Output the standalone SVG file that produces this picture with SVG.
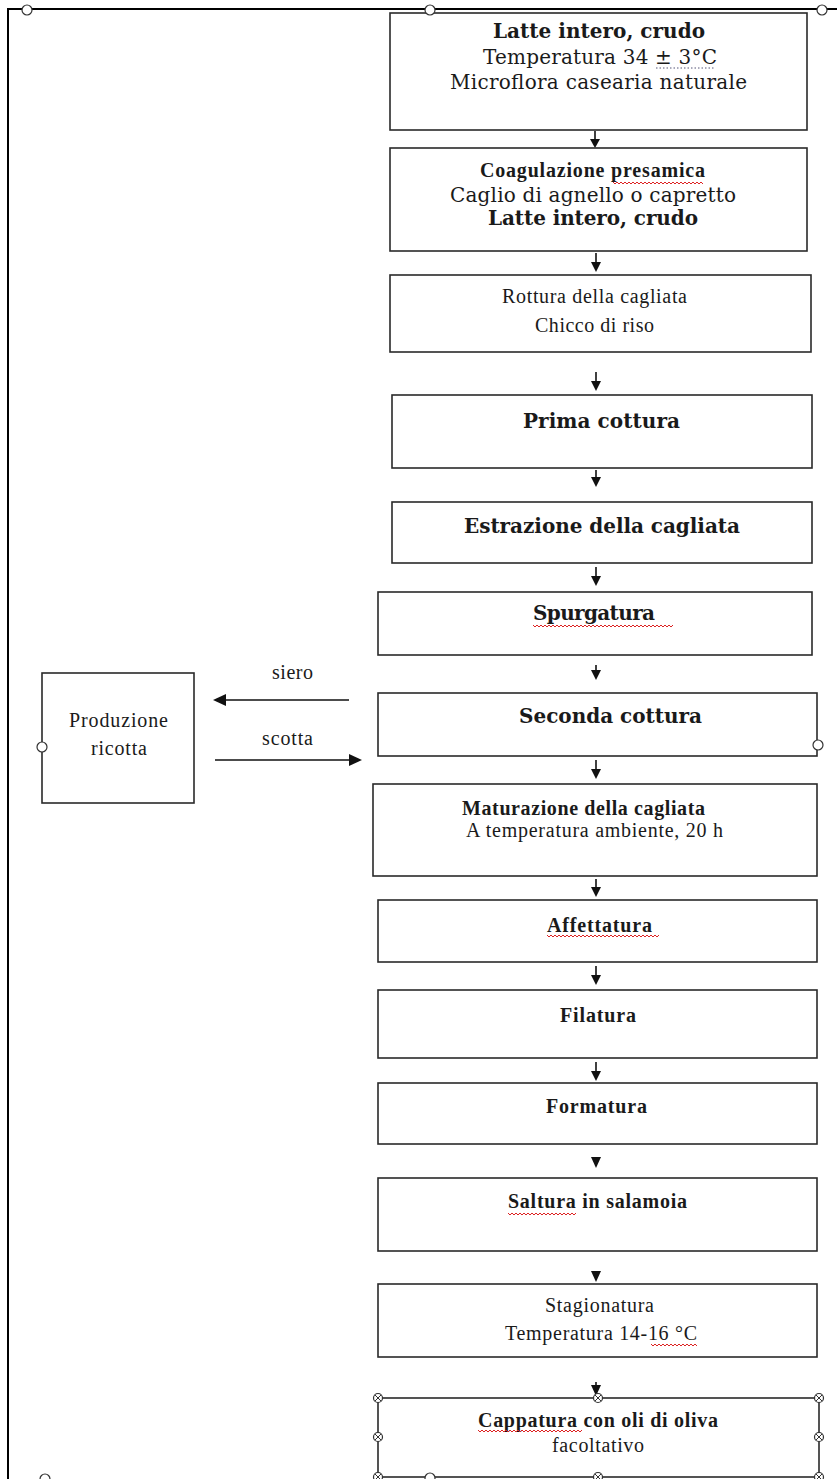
<svg xmlns="http://www.w3.org/2000/svg" width="837" height="1479" viewBox="0 0 837 1479">
<style>
.box{fill:#fff;stroke:#2a2a2a;stroke-width:1.6}
.frame{fill:none;stroke:#000;stroke-width:2}
.t{fill:#1a1a1a;text-anchor:middle}
.w{font-family:"DejaVu Serif","Liberation Serif",serif;font-size:20px}
.n{font-family:"Liberation Serif","DejaVu Serif",serif;font-size:20px}
.b{font-weight:bold}
.ln{stroke:#111;stroke-width:1.6;fill:none}
.hd{fill:#111}
.h{fill:#fff;stroke:#333;stroke-width:1.2}
.x{fill:none;stroke:#333;stroke-width:1}
.sp{fill:none;stroke:#d22;stroke-width:1}
</style>
<defs>
<g id="xh"><circle r="4.5" class="h"/><path class="x" d="M-3,-3L3,3M-3,3L3,-3"/></g>
</defs>
<rect width="837" height="1479" fill="#fff"/>
<path class="frame" d="M8,1479V9H837"/>

<g id="connectors">
<path class="ln" d="M595,131V140"/><path class="hd" d="M590,139h10l-5,9z"/>
<path class="ln" d="M596,253V263"/><path class="hd" d="M591,262h10l-5,10z"/>
<path class="ln" d="M596,372V382"/><path class="hd" d="M591,381h10l-5,10z"/>
<path class="ln" d="M596,470V478"/><path class="hd" d="M591,477h10l-5,10z"/>
<path class="ln" d="M596,567V577"/><path class="hd" d="M591,576h10l-5,10z"/>
<path class="ln" d="M596,665V671"/><path class="hd" d="M591,670h10l-5,10z"/>
<path class="ln" d="M596,760V770"/><path class="hd" d="M591,769h10l-5,10z"/>
<path class="ln" d="M596,879V888"/><path class="hd" d="M591,887h10l-5,10z"/>
<path class="ln" d="M596,966V976"/><path class="hd" d="M591,975h10l-5,10z"/>
<path class="ln" d="M596,1062V1072"/><path class="hd" d="M591,1071h10l-5,10z"/>
<path class="hd" d="M591,1157h10l-5,11z"/>
<path class="hd" d="M591,1271h10l-5,11z"/>
<path class="ln" d="M596,1382V1387"/><path class="hd" d="M591,1385h10l-5,11z"/>
<path class="ln" d="M349,700H224"/><path class="hd" d="M213,700l13,-6v12z"/>
<text class="t n" x="292.5" y="679" textLength="41" lengthAdjust="spacing">siero</text>
<path class="ln" d="M215,760H350"/><path class="hd" d="M362,760l-13,-6v12z"/>
<text class="t n" x="287.5" y="745" textLength="51" lengthAdjust="spacing">scotta</text>
</g>

<g id="n1"><rect class="box" x="390" y="13" width="417" height="117"/>
<text class="t w b" x="599" y="38" textLength="212" lengthAdjust="spacing">Latte intero, crudo</text>
<text class="t w" x="600" y="64" textLength="234" lengthAdjust="spacing">Temperatura 34 ± 3°C</text>
<path d="M656,68H714" stroke="#557" stroke-width="1" stroke-dasharray="1.5,2"/>
<text class="t w" x="598.5" y="89" textLength="297" lengthAdjust="spacing">Microflora casearia naturale</text></g>

<g id="n2"><rect class="box" x="390" y="148" width="417" height="103"/>
<text class="t n b" x="592.5" y="177" textLength="225" lengthAdjust="spacing">Coagulazione presamica</text>
<path class="sp" d="M613,182l2,2l2,-2l2,2l2,-2l2,2l2,-2l2,2l2,-2l2,2l2,-2l2,2l2,-2l2,2l2,-2l2,2l2,-2l2,2l2,-2l2,2l2,-2l2,2l2,-2l2,2l2,-2l2,2l2,-2l2,2l2,-2l2,2l2,-2l2,2l2,-2l2,2l2,-2l2,2l2,-2l2,2l2,-2l2,2l2,-2l2,2l2,-2l2,2l2,-2l2,2"/>
<text class="t w" x="593" y="202" textLength="286" lengthAdjust="spacing">Caglio di agnello o capretto</text>
<text class="t w b" x="593" y="225" textLength="210" lengthAdjust="spacing">Latte intero, crudo</text></g>

<g id="n3"><rect class="box" x="390" y="275" width="421" height="77"/>
<text class="t n" x="594.5" y="303" textLength="185" lengthAdjust="spacing">Rottura della cagliata</text>
<text class="t n" x="594.5" y="332" textLength="119" lengthAdjust="spacing">Chicco di riso</text></g>

<g id="n4"><rect class="box" x="392" y="395" width="420" height="73"/>
<text class="t w b" x="601.5" y="428" textLength="157" lengthAdjust="spacing">Prima cottura</text></g>

<g id="n5"><rect class="box" x="392" y="502" width="420" height="61"/>
<text class="t w b" x="602" y="533" textLength="276" lengthAdjust="spacing">Estrazione della cagliata</text></g>

<g id="n6"><rect class="box" x="378" y="592" width="434" height="63"/>
<text class="t w b" x="594" y="620" textLength="122" lengthAdjust="spacing">Spurgatura</text>
<path class="sp" d="M533,625l2,2l2,-2l2,2l2,-2l2,2l2,-2l2,2l2,-2l2,2l2,-2l2,2l2,-2l2,2l2,-2l2,2l2,-2l2,2l2,-2l2,2l2,-2l2,2l2,-2l2,2l2,-2l2,2l2,-2l2,2l2,-2l2,2l2,-2l2,2l2,-2l2,2l2,-2l2,2l2,-2l2,2l2,-2l2,2l2,-2l2,2l2,-2l2,2l2,-2l2,2l2,-2l2,2l2,-2l2,2l2,-2l2,2l2,-2l2,2l2,-2l2,2l2,-2l2,2l2,-2l2,2l2,-2l2,2l2,-2l2,2l2,-2l2,2l2,-2l2,2l2,-2l2,2l2,-2"/></g>

<g id="n7"><rect class="box" x="378" y="693" width="439" height="63"/>
<text class="t w b" x="610.5" y="723" textLength="183" lengthAdjust="spacing">Seconda cottura</text>
<circle class="h" cx="818" cy="745" r="5"/></g>

<g id="n8"><rect class="box" x="373" y="784" width="444" height="92"/>
<text class="t n b" x="583.5" y="815" textLength="243" lengthAdjust="spacing">Maturazione della cagliata</text>
<text class="t n" x="594.5" y="837" textLength="257" lengthAdjust="spacing">A temperatura ambiente, 20 h</text></g>

<g id="n9"><rect class="box" x="378" y="900" width="439" height="62"/>
<text class="t n b" x="599.5" y="932" textLength="105" lengthAdjust="spacing">Affettatura</text>
<path class="sp" d="M547,935l2,2l2,-2l2,2l2,-2l2,2l2,-2l2,2l2,-2l2,2l2,-2l2,2l2,-2l2,2l2,-2l2,2l2,-2l2,2l2,-2l2,2l2,-2l2,2l2,-2l2,2l2,-2l2,2l2,-2l2,2l2,-2l2,2l2,-2l2,2l2,-2l2,2l2,-2l2,2l2,-2l2,2l2,-2l2,2l2,-2l2,2l2,-2l2,2l2,-2l2,2l2,-2l2,2l2,-2l2,2l2,-2l2,2l2,-2l2,2l2,-2l2,2l2,-2"/></g>

<g id="n10"><rect class="box" x="378" y="990" width="439" height="68"/>
<text class="t n b" x="598" y="1022" textLength="76" lengthAdjust="spacing">Filatura</text></g>

<g id="n11"><rect class="box" x="378" y="1083" width="439" height="61"/>
<text class="t n b" x="596.5" y="1113" textLength="101" lengthAdjust="spacing">Formatura</text></g>

<g id="n12"><rect class="box" x="378" y="1178" width="439" height="73"/>
<text class="t n b" x="597.5" y="1208" textLength="179" lengthAdjust="spacing">Saltura in salamoia</text>
<path class="sp" d="M508,1213l2,2l2,-2l2,2l2,-2l2,2l2,-2l2,2l2,-2l2,2l2,-2l2,2l2,-2l2,2l2,-2l2,2l2,-2l2,2l2,-2l2,2l2,-2l2,2l2,-2l2,2l2,-2l2,2l2,-2l2,2l2,-2l2,2l2,-2l2,2l2,-2l2,2l2,-2"/></g>

<g id="n13"><rect class="box" x="378" y="1284" width="439" height="73"/>
<text class="t n" x="599.5" y="1312" textLength="109" lengthAdjust="spacing">Stagionatura</text>
<text class="t n" x="601" y="1340" textLength="192" lengthAdjust="spacing">Temperatura 14-16 °C</text>
<path class="sp" d="M651,1344l2,2l2,-2l2,2l2,-2l2,2l2,-2l2,2l2,-2l2,2l2,-2l2,2l2,-2l2,2l2,-2l2,2l2,-2l2,2l2,-2l2,2l2,-2l2,2l2,-2l2,2"/></g>

<g id="n14"><rect class="box" x="378" y="1398" width="441" height="79"/>
<text class="t n b" x="598" y="1427" textLength="240" lengthAdjust="spacing">Cappatura con oli di oliva</text>
<path class="sp" d="M478,1430l2,2l2,-2l2,2l2,-2l2,2l2,-2l2,2l2,-2l2,2l2,-2l2,2l2,-2l2,2l2,-2l2,2l2,-2l2,2l2,-2l2,2l2,-2l2,2l2,-2l2,2l2,-2l2,2l2,-2l2,2l2,-2l2,2l2,-2l2,2l2,-2l2,2l2,-2l2,2l2,-2l2,2l2,-2l2,2l2,-2l2,2l2,-2l2,2l2,-2l2,2l2,-2l2,2l2,-2l2,2l2,-2l2,2l2,-2"/>
<text class="t n" x="598" y="1452" textLength="92" lengthAdjust="spacing">facoltativo</text>
<use href="#xh" x="378" y="1398"/><use href="#xh" x="598" y="1398"/><use href="#xh" x="819" y="1398"/>
<use href="#xh" x="378" y="1437"/><use href="#xh" x="819" y="1437"/>
<use href="#xh" x="378" y="1477"/><use href="#xh" x="598" y="1477"/><use href="#xh" x="819" y="1477"/>
<circle class="h" cx="430" cy="1478" r="5"/></g>

<g id="n15"><rect class="box" x="42" y="673" width="152" height="130"/>
<text class="t n" x="118.5" y="727" textLength="99" lengthAdjust="spacing">Produzione</text>
<text class="t n" x="119" y="755" textLength="56" lengthAdjust="spacing">ricotta</text>
<circle class="h" cx="42" cy="747" r="5"/></g>

<g id="handles">
<circle class="h" cx="27" cy="10" r="5"/>
<circle class="h" cx="430" cy="10" r="5"/>
<circle class="h" cx="822" cy="10" r="5"/>
<circle class="h" cx="45" cy="1479" r="5"/>
</g>
</svg>
